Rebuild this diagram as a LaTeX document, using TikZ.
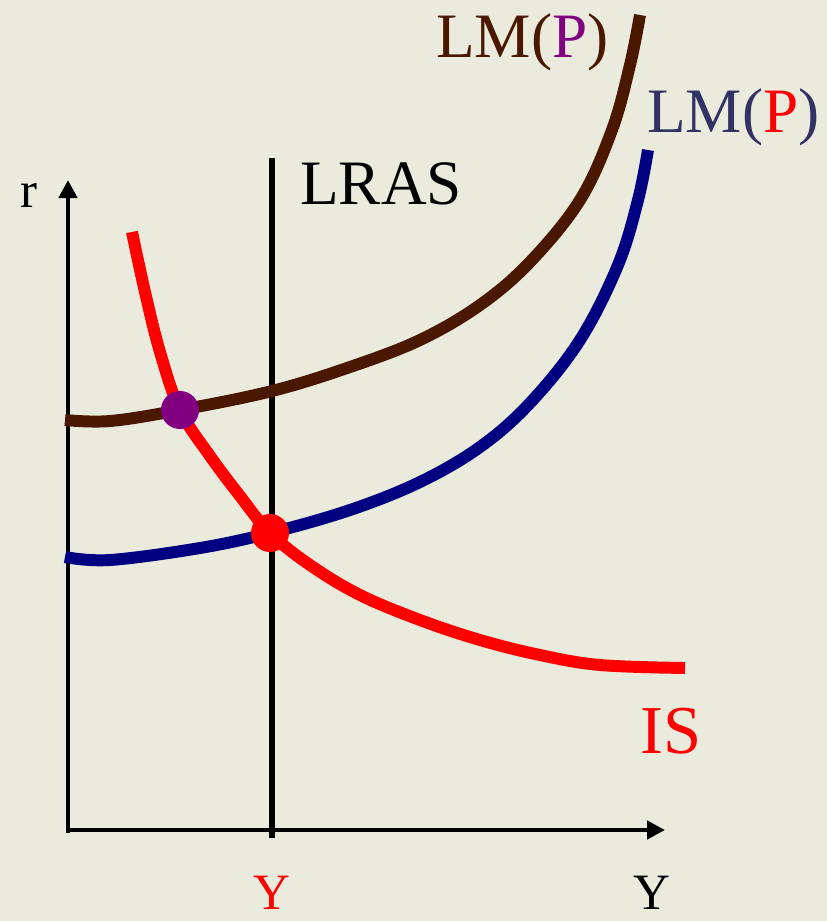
\documentclass[tikz,border=0pt]{standalone}
\usepackage{fontspec}
\setmainfont{Liberation Serif}
\usepackage{tikz}
\usetikzlibrary{arrows.meta}
\usepackage{xcolor}
\definecolor{bgbeige} {RGB}{234,234,221}
\definecolor{lmbrown} {RGB}{74,24,0}
\definecolor{lmnavy}  {RGB}{0,0,128}
\definecolor{lmslate} {RGB}{50,50,100}
\definecolor{plum}    {RGB}{128,0,128}
\definecolor{isred}   {RGB}{255,0,0}

\begin{document}
\begin{tikzpicture}[
    x=0.02cm,y=-0.02cm,
    axis/.style={line width=2.8pt,-{Triangle[length=0.36cm,width=0.36cm]}},
    curve/.style={line width=6.8pt},
    dot/.style={circle,inner sep=0pt,minimum size=0.76cm},
    big/.style={font=\fontsize{36}{40}\selectfont,inner sep=0pt},
    small/.style={font=\fontsize{29}{32}\selectfont,inner sep=0pt}
  ]
    \fill[bgbeige] (0,0) rectangle (827,921);
    \useasboundingbox (0,0) rectangle (827,921);
    % axes
    \coordinate (O)    at (68,830);
    \coordinate (rtop) at (68,180);
    \coordinate (ytip) at (665,830);
    \draw[axis] ([yshift=-0.05cm]O) -- (rtop);
    \draw[axis] ([xshift=-0.05cm]O) -- (ytip);
    \node[small,anchor=base] (rlab) at (29,207) {r};
    \node[small,anchor=base] (ylab) at (652,909) {Y};
    % long run supply
    \coordinate (lrtop) at (272,158);
    \coordinate (lrbot) at (272,838);
    \draw[line width=3.4pt] (lrtop) -- (lrbot);
    \node[big,anchor=base west] (lras) at (300,204) {LRAS};
    \node[small,anchor=base,text=isred] (ystar) at (272,909) {Y};
    % LM curves
    \draw[curve,lmbrown] plot[smooth,tension=0.6] coordinates {(65,420) (110,421) (180,410) (272,391) (350,367) (420,340) (480,305) (530,262) (580,200) (612,130) (630,65) (640,15)};
    \draw[curve,lmnavy] plot[smooth,tension=0.6] coordinates {(65,557) (110,560) (200,548) (270,533) (350,510) (420,482) (480,447) (530,403) (580,340) (618,265) (638,200) (648,150)};
    \node[big,anchor=base west,text=lmbrown] (lmold) at (436,57) {LM(\textcolor{plum}{P})};
    \node[big,anchor=base west,text=lmslate] (lmnew) at (647,132) {LM(\textcolor{isred}{P})};
    % IS curve
    \draw[curve,isred] plot[smooth,tension=0.6] coordinates {(132,232) (145,292) (160,352) (180,410) (210,456) (240,496) (270,533) (310,565) (360,595) (420,620) (480,640) (540,655) (600,665) (685,668)};
    \node[big,anchor=base west,text=isred,font=\fontsize{39}{42}\selectfont] (islab) at (640,753) {IS};
    % equilibria
    \node[dot,fill=plum]  (eqshort) at (180,410) {};
    \node[dot,fill=isred] (eqlong)  at (270,533) {};
\end{tikzpicture}
\end{document}
